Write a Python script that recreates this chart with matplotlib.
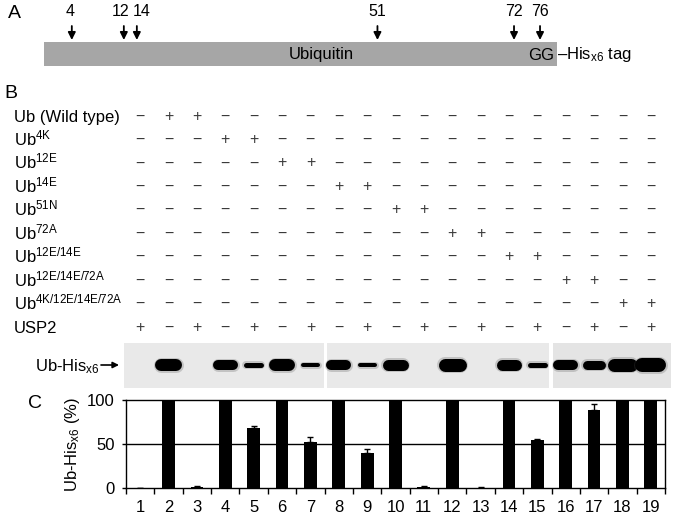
import matplotlib
matplotlib.use("Agg")
import matplotlib.pyplot as plt
import matplotlib.transforms as mtransforms
from matplotlib.patches import Rectangle

plt.rcParams["font.family"] = ["Liberation Sans", "DejaVu Sans"]
plt.rcParams["mathtext.fontset"] = "custom"
plt.rcParams["mathtext.rm"] = "Liberation Sans"
plt.rcParams["mathtext.it"] = "Liberation Sans:italic"
plt.rcParams["mathtext.bf"] = "Liberation Sans:bold"

# panel A: mutated residues on the ubiquitin map
mut_residues = [4, 12, 14, 51, 72, 76]

# panel B: treatment table
row_labels = [
    "Ub (Wild type)",
    r"Ub$^{\mathrm{4K}}$",
    r"Ub$^{\mathrm{12E}}$",
    r"Ub$^{\mathrm{14E}}$",
    r"Ub$^{\mathrm{51N}}$",
    r"Ub$^{\mathrm{72A}}$",
    r"Ub$^{\mathrm{12E/14E}}$",
    r"Ub$^{\mathrm{12E/14E/72A}}$",
    r"Ub$^{\mathrm{4K/12E/14E/72A}}$",
    "USP2",
]
lanes = list(range(1, 20))
# index of the ubiquitin construct loaded in each lane (-1 = none)
lane_construct = [-1, 0, 0, 1, 1, 2, 2, 3, 3, 4, 4, 5, 5, 6, 6, 7, 7, 8, 8]
usp2 = [1, 0, 1, 0, 1, 0, 1, 0, 1, 0, 1, 0, 1, 0, 1, 0, 1, 0, 1]

# western blot bands (lane, band thickness in px)
band_lanes = [2, 4, 5, 6, 7, 8, 9, 10, 12, 14, 15, 16, 17, 18, 19]
band_thick = [12, 10, 5, 12, 4, 10, 4, 11, 13, 11, 5, 10, 9, 13, 14]

# panel C: remaining Ub-His (%)
remaining = [0, 100, 1, 100, 68.5, 100, 52.5, 100, 40, 100, 1, 100, 0.5, 100, 54.5, 100, 88.5, 100, 100]
remaining_err = [0, 0, 0.8, 0, 2.5, 0, 5.5, 0, 4, 0, 1, 0, 0.5, 0, 1.5, 0, 7, 0, 0]

fig = plt.figure(figsize=(6.75, 5.17), dpi=100)
canvas = fig.add_axes([0, 0, 1, 1])
canvas.set_xlim(0, 675)
canvas.set_ylim(517, 0)
canvas.axis("off")

axc = fig.add_axes([126 / 675, 1 - 488 / 517, 539 / 675, 88 / 517])

# ---------------- panel A ----------------
res_tr = mtransforms.Affine2D().scale(6.503, 1).translate(45.8, 0) + canvas.transData
canvas.text(14, 14, "A", fontsize=14, ha="center", va="center")
canvas.add_patch(Rectangle((-0.3, 42), 78.9, 24, transform=res_tr, facecolor="#a6a6a6", edgecolor="none"))
canvas.text(42.3, 55, "Ubiquitin", transform=res_tr, fontsize=12, ha="center", va="center")
canvas.text(78.2, 55, "GG", transform=res_tr, fontsize=12, ha="right", va="center")
canvas.text(78.6, 55, r"–His$_{\mathrm{x6}}$ tag", transform=res_tr, fontsize=12, ha="left", va="center")
label_dx = [-2, -3, 5, 0, 0, 0]  # px nudges so the close labels do not collide
for r, dx in zip(mut_residues, label_dx):
    canvas.annotate(str(r), xy=(r, 12), xycoords=res_tr, xytext=(dx * 0.72, 0),
                    textcoords="offset points", fontsize=11.5, ha="center", va="center")
    canvas.annotate("", xy=(r, 40), xytext=(r, 26), xycoords=res_tr, textcoords=res_tr,
                    arrowprops=dict(arrowstyle="-|>", color="black", lw=1.3, mutation_scale=11,
                                    shrinkA=0, shrinkB=0))

# ---------------- panel B ----------------
lane_tr = mtransforms.blended_transform_factory(axc.transData, canvas.transData)
canvas.text(11, 93, "B", fontsize=14, ha="center", va="center")
row_y = [116 + 23.45 * i for i in range(len(row_labels))]
for i, (lab, y) in enumerate(zip(row_labels, row_y)):
    canvas.text(14, y + 6, lab, fontsize=12, ha="left", va="baseline")
    for j, lane in enumerate(lanes):
        if i == len(row_labels) - 1:
            on = usp2[j] == 1
        else:
            on = lane_construct[j] == i
        canvas.text(lane, y, "+" if on else "−", transform=lane_tr, fontsize=11.5,
                    color="#3a3a3a", ha="center", va="center")

# blot
gel_panels = [(0.42, 7.48, "#e9e9e9"), (7.58, 15.42, "#e9e9e9"), (15.55, 19.72, "#e4e4e4")]
for x0, x1, col in gel_panels:
    canvas.add_patch(Rectangle((x0, 343), x1 - x0, 45, transform=lane_tr, facecolor=col, edgecolor="none"))
for lane, th in zip(band_lanes, band_thick):
    half = 0.26 if lane < 18 else 0.3
    canvas.plot([lane - half, lane + half], [365, 365], transform=lane_tr, color="#555555",
                lw=(th + 3) / 1.389, alpha=0.25, solid_capstyle="round")
    canvas.plot([lane - half, lane + half], [365, 365], transform=lane_tr, color="black",
                lw=th / 1.389, solid_capstyle="round")
canvas.text(35, 367, r"Ub-His$_{\mathrm{x6}}$", fontsize=12, ha="left", va="center")
canvas.annotate("", xy=(119, 365), xytext=(101, 365),
                arrowprops=dict(arrowstyle="-|>", color="black", lw=1.2, mutation_scale=9,
                                shrinkA=0, shrinkB=0))

# ---------------- panel C ----------------
canvas.text(35, 404, "C", fontsize=14, ha="center", va="center")
axc.bar(lanes, remaining, width=0.45, color="black",
        yerr=[[0] * len(remaining_err), remaining_err],
        error_kw=dict(ecolor="black", elinewidth=1, capsize=2.5, capthick=1))
axc.axhline(50, color="black", lw=1)
axc.set_xlim(0.5, 19.5)
axc.set_ylim(0, 100)
axc.set_yticks([0, 50, 100])
axc.set_xticks(lanes)
axc.set_xticks([k + 0.5 for k in range(0, 20)], minor=True)
axc.tick_params(axis="x", which="major", length=0, pad=8.5, labelsize=12)
axc.tick_params(axis="x", which="minor", length=4, width=1, direction="out")
axc.tick_params(axis="y", length=3, width=1, direction="out", pad=5, labelsize=12)
for sp in axc.spines.values():
    sp.set_linewidth(1)
canvas.text(72, 444, r"Ub-His$_{\mathrm{x6}}$ (%)", fontsize=12, rotation=90, ha="center", va="center")

fig.savefig("out.png", dpi=100)
